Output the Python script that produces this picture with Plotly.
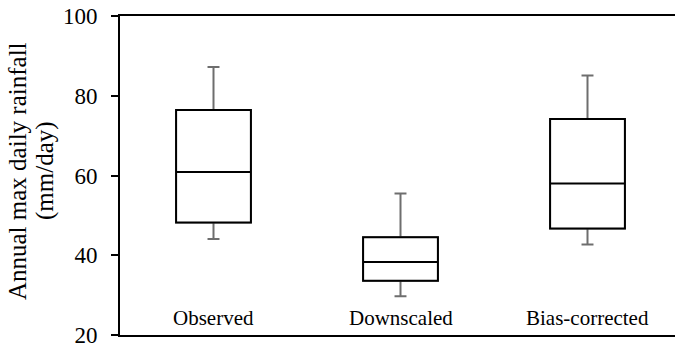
import plotly.graph_objects as go

# Summary statistics of annual maximum daily rainfall (mm/day)
categories = ["Observed", "Downscaled", "Bias-corrected"]
positions = [0, 1, 2]
lower_whisker = [44.1, 29.7, 42.7]
q1_values = [48.2, 33.6, 46.7]
median_values = [60.9, 38.3, 58.0]
q3_values = [76.4, 44.5, 74.2]
upper_whisker = [87.2, 55.5, 85.1]

y_ticks = [20, 40, 60, 80, 100]
y_title_lines = ["Annual max daily rainfall", "(mm/day)"]

FONT = "Liberation Serif"
PLOT_LEFT, PLOT_WIDTH = 120, 555

fig = go.Figure()

# Gray whiskers with caps (full range)
fig.add_trace(go.Box(
    x=positions,
    q1=q1_values, median=median_values, q3=q3_values,
    lowerfence=lower_whisker, upperfence=upper_whisker,
    width=0.4, whiskerwidth=0.16,
    fillcolor="white",
    line=dict(color="#6e6e6e", width=2),
    boxpoints=False, hoverinfo="skip", showlegend=False,
))

# Black box outline and median drawn on top
fig.add_trace(go.Box(
    x=positions,
    q1=q1_values, median=median_values, q3=q3_values,
    lowerfence=q1_values, upperfence=q3_values,
    width=0.4, whiskerwidth=0,
    fillcolor="white",
    line=dict(color="black", width=2),
    boxpoints=False, hoverinfo="skip", showlegend=False,
))

# Category labels sit inside the plot, just above the baseline
for pos, name in zip(positions, categories):
    fig.add_annotation(
        x=pos, y=24.2, xref="x", yref="y",
        text=name, showarrow=False,
        xanchor="center", yanchor="middle",
        font=dict(family=FONT, size=21, color="black"),
    )

# Two-line vertical axis title
for line_text, px in zip(y_title_lines, [17, 45]):
    fig.add_annotation(
        x=(px - PLOT_LEFT) / PLOT_WIDTH, y=0.514,
        xref="paper", yref="paper",
        text=line_text, textangle=-90, showarrow=False,
        xanchor="center", yanchor="middle",
        font=dict(family=FONT, size=25, color="black"),
    )

fig.update_layout(
    width=675, height=348,
    margin=dict(l=PLOT_LEFT, r=0, t=16, b=10),
    paper_bgcolor="white", plot_bgcolor="white",
    font=dict(family=FONT, color="black"),
    boxmode="overlay",
    xaxis=dict(
        range=[-0.5, -0.5 + PLOT_WIDTH / 187],
        showticklabels=False, ticks="",
        showgrid=False, zeroline=False,
        showline=True, linecolor="black", linewidth=2, mirror=True,
    ),
    yaxis=dict(
        range=[20, 100],
        tickvals=y_ticks, ticktext=[str(v) for v in y_ticks],
        ticks="outside", ticklen=7, tickwidth=2, tickcolor="black",
        ticklabelstandoff=9, ticklabeloverflow="allow",
        tickfont=dict(family=FONT, size=23, color="black"),
        showgrid=False, zeroline=False,
        showline=True, linecolor="black", linewidth=2,
    ),
)

fig.write_html("out.html")
